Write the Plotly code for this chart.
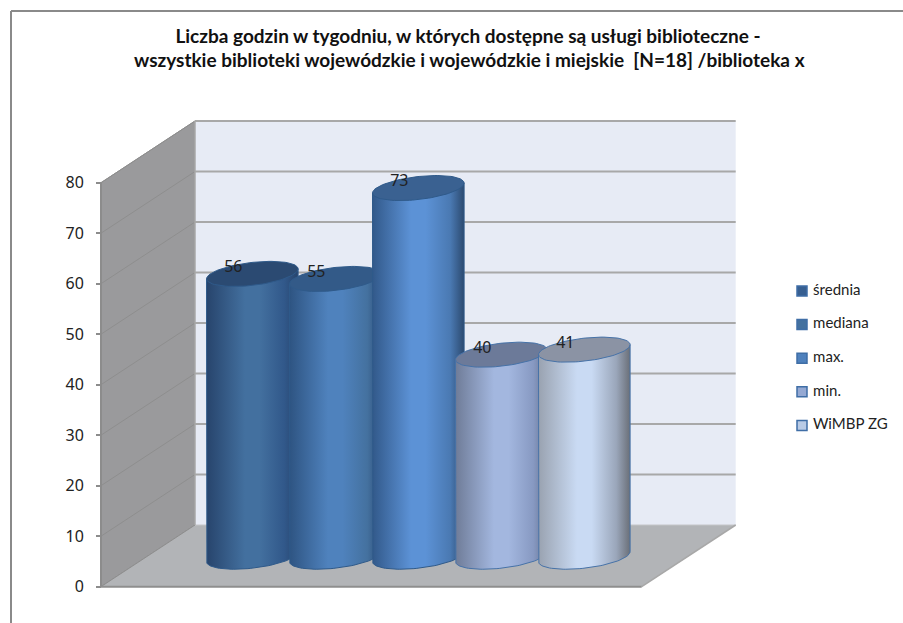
import numpy as np
import plotly.graph_objects as go

# ---- data ----
series_names = ["średnia", "mediana", "max.", "min.", "WiMBP ZG"]
series_values = [56, 55, 73, 40, 41]
tick_values = [0, 10, 20, 30, 40, 50, 60, 70, 80]
title_lines = [
    "Liczba godzin w tygodniu, w których dostępne są usługi biblioteczne -",
    "wszystkie biblioteki wojewódzkie i wojewódzkie i miejskie  [N=18] /biblioteka x",
]
body_scales = [
    ["#27446c", "#43709f", "#31588a", "#27446c"],
    ["#2e5482", "#4f82bd", "#44719f", "#2c4c78"],
    ["#32598a", "#5c92d6", "#4a79b2", "#2c4a70"],
    ["#6f7c98", "#a3b7df", "#8799c2", "#667390"],
    ["#99a2b0", "#c9daf3", "#9aa6ba", "#6a6f78"],
]
outline_colors = ["#2f5a8a", "#2f5a8a", "#2f5a8a", "#4672a8", "#4672a8"]
top_colors = ["#2b4a72", "#335a88", "#3a6191", "#6c7a99", "#8b93a4"]
legend_colors = ["#375f91", "#44719f", "#4f81bd", "#95a9d3", "#b9cbe6"]

# ---- geometry of the pseudo 3D scene (pixel based x axis, value based y axis) ----
W, H = 903, 623
Y0_PX, PX_PER_UNIT = 586.7, 5.05
def val(py):
    return (Y0_PX - py) / PX_PER_UNIT

AX_L, AX_R = 101, 641.7
DX, DY = 94, 61.7 / PX_PER_UNIT
Y_MAX = 80
WALL, FLOOR, BACK = "#9a9a9c", "#b2b4b7", "#e7ebf5"
GRID_BACK, GRID_SIDE, EDGE = "#a8a8a8", "#8e8e8e", "#8c8c8c"

CX0, CX_STEP, A = 252.3, 83, 45.8
B, S = 11.5, 5.0
BASE_PX = 556.7

def poly(pts):
    return "M" + " L".join(f"{x},{y}" for x, y in pts) + " Z"

shapes = [
    dict(type="path", path=poly([(AX_L, 0), (AX_L + DX, DY), (AX_L + DX, Y_MAX + DY), (AX_L, Y_MAX)]),
         fillcolor=WALL, line=dict(color=EDGE, width=1), layer="below"),
    dict(type="path", path=poly([(AX_L, 0), (AX_L + DX, DY), (AX_R + DX, DY), (AX_R, 0)]),
         fillcolor=FLOOR, line=dict(width=0), layer="below"),
    dict(type="rect", x0=AX_L + DX, x1=AX_R + DX, y0=DY, y1=Y_MAX + DY,
         fillcolor=BACK, line=dict(width=0), layer="below"),
]
for t in tick_values:
    if t > 0:
        shapes.append(dict(type="line", x0=AX_L + DX, x1=AX_R + DX, y0=t + DY, y1=t + DY,
                           line=dict(color=GRID_BACK, width=2), layer="below"))
    shapes.append(dict(type="line", x0=AX_L, x1=AX_L + DX, y0=t, y1=t + DY,
                       line=dict(color=GRID_SIDE, width=1), layer="below"))
shapes += [
    dict(type="line", x0=AX_L + DX, x1=AX_R + DX, y0=DY, y1=DY, line=dict(color="#c4c5c8", width=1), layer="below"),
    dict(type="line", x0=AX_L, x1=AX_R, y0=0, y1=0, line=dict(color=GRID_SIDE, width=2), layer="below"),
    dict(type="line", x0=AX_R, x1=AX_R + DX, y0=0, y1=DY, line=dict(color=GRID_BACK, width=1.5), layer="below"),
    dict(type="line", x0=AX_L, x1=AX_L, y0=0, y1=Y_MAX, line=dict(color=EDGE, width=2), layer="below"),
    dict(type="line", x0=AX_L + DX, x1=AX_L + DX, y0=DY, y1=Y_MAX + DY, line=dict(color="#a8a8a8", width=1.5), layer="below"),
    # chart frame, cropped by the picture on the right and at the bottom
    dict(type="line", xref="paper", yref="paper", x0=11 / W, x1=1, y0=1 - 11 / H, y1=1 - 11 / H,
         line=dict(color="#8a8a8a", width=2), layer="below"),
    dict(type="line", xref="paper", yref="paper", x0=11 / W, x1=11 / W, y0=0, y1=1 - 11 / H,
         line=dict(color="#8a8a8a", width=2), layer="below"),
]

fig = go.Figure()

def ellipse_xy(cx, cy_px, ts):
    xs = cx + A * np.cos(ts)
    ys = cy_px + B * np.sin(ts) - S * np.cos(ts)
    return xs, ys

for i, (name, v) in enumerate(zip(series_names, series_values)):
    cx = CX0 + i * CX_STEP
    top_px = BASE_PX - v * PX_PER_UNIT
    lower = np.linspace(np.pi, 0, 50)
    bx, by = ellipse_xy(cx, BASE_PX, lower)
    tx_r, ty_r = ellipse_xy(cx, top_px, np.array([0.0]))
    tx_l, ty_l = ellipse_xy(cx, top_px, np.array([np.pi]))
    xs = np.concatenate([tx_l, bx, tx_r, tx_l])
    ys = np.concatenate([ty_l, by, ty_r, ty_l])
    scale = body_scales[i]
    fig.add_trace(go.Scatter(
        x=xs, y=val(ys), mode="lines", fill="toself", name=name, showlegend=False,
        line=dict(color=outline_colors[i], width=1), hoverinfo="skip",
        fillgradient=dict(type="horizontal", start=cx - A, stop=cx + A,
                          colorscale=[[0, scale[0]], [0.42, scale[1]], [0.58, scale[1]],
                                      [0.85, scale[2]], [1, scale[3]]]),
    ))
    ex, ey = ellipse_xy(cx, top_px, np.linspace(0, 2 * np.pi, 90))
    fig.add_trace(go.Scatter(
        x=ex, y=val(ey), mode="lines", fill="toself", fillcolor=top_colors[i], showlegend=False,
        line=dict(color=outline_colors[i], width=1), hoverinfo="skip",
    ))

# value labels
fig.add_trace(go.Scatter(
    x=[CX0 + i * CX_STEP - 19 for i in range(len(series_values))],
    y=[val(BASE_PX - v * PX_PER_UNIT - 5.8) for v in series_values],
    mode="text", text=[str(v) for v in series_values], textposition="middle center",
    textfont=dict(family="Noto Sans", size=16, color="#222222"),
    showlegend=False, hoverinfo="skip",
))

# legend
LEG_X, LEG_Y0, LEG_STEP = 802, 291, 33.6
fig.add_trace(go.Scatter(
    x=[LEG_X] * len(series_names),
    y=[val(LEG_Y0 + i * LEG_STEP) for i in range(len(series_names))],
    mode="markers+text", text=[" " + n for n in series_names], textposition="middle right",
    textfont=dict(family="Lato", size=15, color="#222222"),
    marker=dict(symbol="square", size=10, color=legend_colors, line=dict(color="#3f6ea6", width=1.5)),
    showlegend=False, hoverinfo="skip", cliponaxis=False,
))

fig.update_layout(
    width=W, height=H, autosize=False,
    margin=dict(l=0, r=0, t=0, b=0),
    paper_bgcolor="white", plot_bgcolor="white",
    showlegend=False, shapes=shapes,
    title=dict(text=f"<b>{title_lines[0]}</b>", x=468 / W, xanchor="center", y=1 - 36 / H, yanchor="middle",
               font=dict(family="Lato", size=19, color="#111111")),
    annotations=[dict(text=f"<b>{title_lines[1]}</b>", xref="paper", yref="paper", x=469.5 / W, y=1 - 60 / H,
                      xanchor="center", yanchor="middle", showarrow=False,
                      font=dict(family="Lato", size=19, color="#111111"))],
    xaxis=dict(range=[0, W], visible=False, fixedrange=True),
    yaxis=dict(range=[val(H), val(0)], anchor="free", position=AX_L / W,
               tickvals=tick_values, ticktext=[str(t) for t in tick_values],
               ticks="outside", ticklen=5, tickcolor=EDGE, tickwidth=2, ticklabelstandoff=9,
               showgrid=False, zeroline=False, showline=False, fixedrange=True,
               tickfont=dict(family="Noto Sans", size=16, color="#222222")),
)

fig.write_html("out.html", config=dict(displayModeBar=False),
               post_script="document.body.style.margin='0';document.body.style.overflow='hidden';")
